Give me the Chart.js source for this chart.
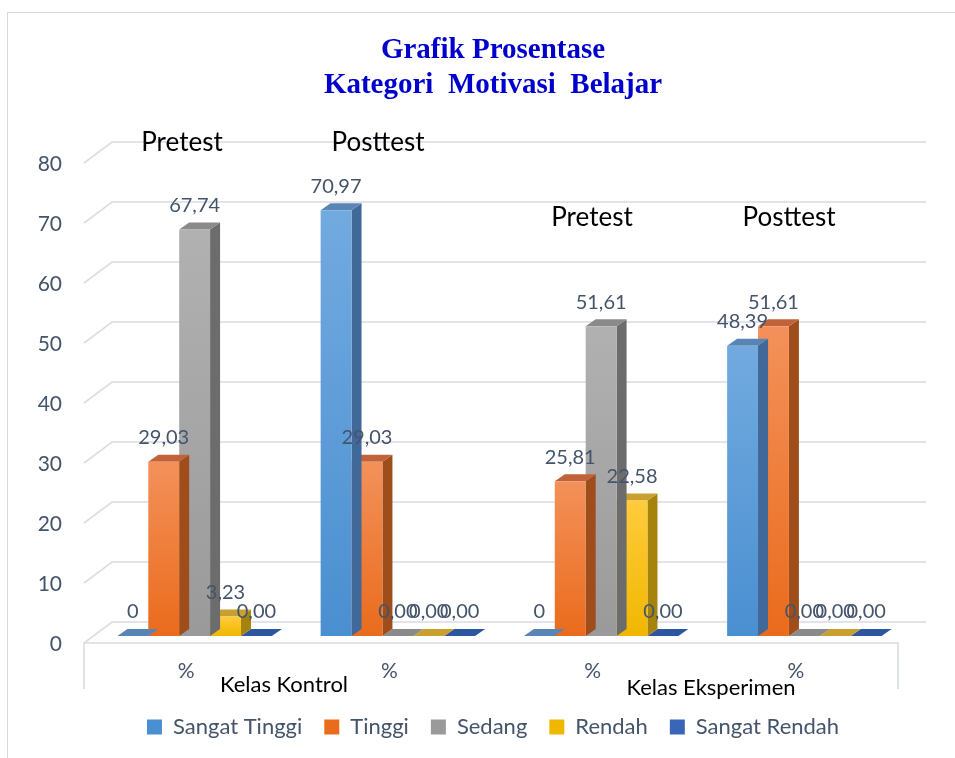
<!DOCTYPE html>
<html>
<head>
<meta charset="utf-8">
<script src="https://cdn.jsdelivr.net/npm/chart.js@4.4.1/dist/chart.umd.min.js"></script>
<style>
  html, body { margin: 0; padding: 0; background: #fff; }
  #wrap { width: 955px; height: 758px; position: relative; }
</style>
</head>
<body>
<div id="wrap"><canvas id="chart"></canvas></div>
<script>
const categories = ['%', '%', '%', '%'];
const seriesNames = ['Sangat Tinggi', 'Tinggi', 'Sedang', 'Rendah', 'Sangat Rendah'];
const sangatTinggi = [0, 70.97, 0, 48.39];
const tinggi = [29.03, 29.03, 25.81, 51.61];
const sedang = [67.74, 0, 51.61, 0];
const rendah = [3.23, 0, 22.58, 0];
const sangatRendah = [0, 0, 0, 0];
const yTicks = [0, 10, 20, 30, 40, 50, 60, 70, 80];
const titleLines = ['Grafik Prosentase', 'Kategori  Motivasi  Belajar'];
const phaseLabels = ['Pretest', 'Posttest', 'Pretest', 'Posttest'];
const classLabels = ['Kelas Kontrol', 'Kelas Eksperimen'];

const textColor = '#44546a';
const FONT = 'Lato, "Open Sans", sans-serif';

// front gradient (top, bottom), side face, top face, legend
const palette = [
  { front: ['#72aadf', '#4a8fd1'], side: '#40699a', top: '#5985b5', legend: '#5b9bd5' },
  { front: ['#f3915a', '#ea6b1c'], side: '#a04d1c', top: '#c0633a', legend: '#ed7d31' },
  { front: ['#b1b1b1', '#9a9a9a'], side: '#6c6c6c', top: '#8a8a8a', legend: '#a5a5a5' },
  { front: ['#ffcb3c', '#f0b700'], side: '#a6840c', top: '#c9a02f', legend: '#ffc000' },
  { front: ['#5282d2', '#3a66b8'], side: '#274680', top: '#2e55a0', legend: '#4472c4' }
];
const DX = 10, DY = 7;

function frontFill(i) {
  return (c) => {
    const chart = c.chart;
    if (!chart.chartArea || c.raw === undefined) return palette[i].legend;
    const y = chart.scales.y;
    const top = y.getPixelForValue(c.raw), bottom = y.getPixelForValue(0);
    if (bottom - top < 1) return palette[i].front[1];
    const g = chart.ctx.createLinearGradient(0, top, 0, bottom);
    g.addColorStop(0, palette[i].front[0]);
    g.addColorStop(1, palette[i].front[1]);
    return g;
  };
}

function fmt(i, v) {
  if (i === 0 && v === 0) return '0';
  return v.toFixed(2).replace('.', ',');
}

const border = {
  id: 'border',
  beforeDraw(chart) {
    const ctx = chart.ctx;
    ctx.save();
    ctx.strokeStyle = '#d9d9d9';
    ctx.lineWidth = 1;
    ctx.strokeRect(7.5, 12.5, 1000, 760);
    ctx.restore();
  }
};

// back wall gridlines and floor, faked 3D
const grid3d = {
  id: 'grid3d',
  beforeDatasetsDraw(chart) {
    const { ctx, chartArea: a, scales: { y } } = chart;
    ctx.save();
    ctx.strokeStyle = '#d9dce3';
    ctx.lineWidth = 1.6;
    yTicks.forEach(v => {
      const py = y.getPixelForValue(v);
      ctx.beginPath();
      ctx.moveTo(a.left - 9, py + 7);
      ctx.lineTo(a.left + 19, py - 14);
      ctx.lineTo(a.right + 20, py - 14);
      ctx.stroke();
    });
    const p0 = y.getPixelForValue(0);
    ctx.beginPath();
    ctx.moveTo(a.left - 9, p0 + 53);
    ctx.lineTo(a.left - 9, p0 + 7);
    ctx.lineTo(a.right - 8, p0 + 7);
    ctx.lineTo(a.right - 8, p0 + 53);
    ctx.stroke();
    ctx.restore();
  }
};

// side and top faces, drawn before chart.js paints the front face
const bar3d = {
  id: 'bar3d',
  beforeDatasetDraw(chart, args) {
    const ctx = chart.ctx;
    const pal = palette[args.index];
    ctx.save();
    args.meta.data.forEach(bar => {
      const { x, y, base, width } = bar.getProps(['x', 'y', 'base', 'width'], true);
      const x0 = x - width / 2, x1 = x + width / 2;
      if (base - y > 0.5) {
        ctx.fillStyle = pal.side;
        ctx.beginPath();
        ctx.moveTo(x1, y);
        ctx.lineTo(x1 + DX, y - DY);
        ctx.lineTo(x1 + DX, base - DY);
        ctx.lineTo(x1, base);
        ctx.closePath();
        ctx.fill();
      }
      ctx.fillStyle = pal.top;
      ctx.beginPath();
      ctx.moveTo(x0, y);
      ctx.lineTo(x0 + DX, y - DY);
      ctx.lineTo(x1 + DX, y - DY);
      ctx.lineTo(x1, y);
      ctx.closePath();
      ctx.fill();
    });
    ctx.restore();
  }
};

const valueLabels = {
  id: 'valueLabels',
  afterDatasetsDraw(chart) {
    const ctx = chart.ctx;
    ctx.save();
    ctx.font = '20px ' + FONT;
    ctx.fillStyle = textColor;
    ctx.textAlign = 'center';
    ctx.textBaseline = 'middle';
    chart.data.datasets.forEach((ds, i) => {
      chart.getDatasetMeta(i).data.forEach((bar, j) => {
        ctx.fillText(fmt(i, ds.data[j]), bar.x, bar.y - 24);
      });
    });
    ctx.restore();
  }
};

const notes = {
  id: 'notes',
  afterDraw(chart) {
    const ctx = chart.ctx;
    ctx.save();
    ctx.fillStyle = '#000';
    ctx.textAlign = 'center';
    ctx.textBaseline = 'alphabetic';
    ctx.font = '26px ' + FONT;
    ctx.fillText(phaseLabels[0], 182, 151);
    ctx.fillText(phaseLabels[1], 378, 151);
    ctx.fillText(phaseLabels[2], 592, 226);
    ctx.fillText(phaseLabels[3], 789, 226);
    ctx.font = '22px ' + FONT;
    ctx.fillText(classLabels[0], 284, 692);
    ctx.fillText(classLabels[1], 711, 695);
    ctx.restore();
  }
};

const seriesData = [sangatTinggi, tinggi, sedang, rendah, sangatRendah];

new Chart(document.getElementById('chart'), {
  type: 'bar',
  data: {
    labels: categories,
    datasets: seriesNames.map((name, i) => ({
      label: name,
      data: seriesData[i],
      backgroundColor: frontFill(i),
      borderWidth: 0,
      categoryPercentage: 0.76,
      barPercentage: 1
    }))
  },
  options: {
    responsive: true,
    maintainAspectRatio: false,
    animation: false,
    layout: { padding: { left: 31, right: 0, top: 12, bottom: 10 } },
    scales: {
      x: {
        grid: { display: false, drawTicks: false },
        border: { display: false },
        ticks: { color: textColor, font: { family: FONT, size: 21 }, padding: 23, labelOffset: -8.5 },
        afterFit: (s) => { s.height = 58; }
      },
      y: {
        min: 0,
        max: 80,
        grid: { display: false, drawTicks: false },
        border: { display: false },
        ticks: { stepSize: 10, color: textColor, font: { family: FONT, size: 21 }, padding: 31, labelOffset: 8 },
        afterFit: (s) => { s.width = 62; }
      },
      y2: {
        position: 'right',
        grid: { display: false, drawTicks: false },
        border: { display: false },
        ticks: { display: false },
        afterFit: (s) => { s.width = 49; }
      }
    },
    plugins: {
      title: {
        display: true,
        text: titleLines,
        color: '#0000cc',
        font: { family: '"Liberation Serif", "Times New Roman", serif', size: 29, weight: 'bold', lineHeight: 1.2 },
        padding: { top: 21, bottom: 53.4 }
      },
      legend: {
        position: 'bottom',
        maxHeight: 68,
        labels: { boxWidth: 15, boxHeight: 15, padding: 22, color: textColor, font: { family: FONT, size: 22 } }
      },
      tooltip: { enabled: false }
    }
  },
  plugins: [border, grid3d, bar3d, valueLabels, notes]
});
</script>
</body>
</html>
